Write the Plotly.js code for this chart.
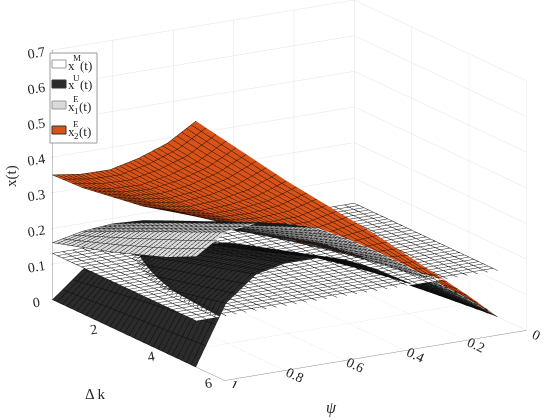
<!DOCTYPE html>
<html>
<head>
<meta charset="utf-8">
<script src="https://cdn.plot.ly/plotly-3.0.1.min.js"></script>
<style>html,body{margin:0;padding:0;background:#fff;}#chart{width:550px;height:420px;}</style>
</head>
<body>
<div id="chart"></div>
<script>
// axes
var psi = [0, 0.1, 0.2, 0.3, 0.4, 0.5, 0.6, 0.7, 0.8, 0.9, 1];
var dk = [0, 1, 2, 3, 4, 5];
var psiTicks = [0, 0.2, 0.4, 0.6, 0.8, 1];
var dkTicks = [0, 2, 4, 6];
var zTicks = [0, 0.1, 0.2, 0.3, 0.4, 0.5, 0.6, 0.7];

// x^M(t): rows = Δk, columns = ψ
var xM = [
  [0.13, 0.13, 0.13, 0.13, 0.13, 0.13, 0.13, 0.13, 0.13, 0.13, 0.13],
  [0.13, 0.13, 0.13, 0.13, 0.13, 0.13, 0.13, 0.13, 0.13, 0.13, 0.13],
  [0.13, 0.13, 0.13, 0.13, 0.13, 0.13, 0.13, 0.13, 0.13, 0.13, 0.13],
  [0.13, 0.13, 0.13, 0.13, 0.13, 0.13, 0.13, 0.13, 0.13, 0.13, 0.13],
  [0.13, 0.13, 0.13, 0.13, 0.13, 0.13, 0.13, 0.13, 0.13, 0.13, 0.13],
  [0.13, 0.13, 0.13, 0.13, 0.13, 0.13, 0.13, 0.13, 0.13, 0.13, 0.13]
];
// x^U(t)
var xU = [
  [0, 0.020, 0.040, 0.060, 0.080, 0.100, 0.110, 0.115, 0.105, 0.070, 0],
  [0, 0.025, 0.050, 0.076, 0.102, 0.126, 0.138, 0.142, 0.132, 0.090, 0],
  [0, 0.030, 0.060, 0.092, 0.124, 0.152, 0.166, 0.169, 0.158, 0.110, 0],
  [0, 0.035, 0.070, 0.108, 0.146, 0.178, 0.194, 0.196, 0.184, 0.128, 0],
  [0, 0.040, 0.080, 0.124, 0.168, 0.204, 0.222, 0.223, 0.208, 0.146, 0],
  [0, 0.045, 0.090, 0.140, 0.190, 0.230, 0.250, 0.250, 0.232, 0.165, 0]
];
// x_1^E(t)
var x1E = [
  [0, 0.025, 0.050, 0.080, 0.110, 0.137, 0.160, 0.180, 0.185, 0.178, 0.160],
  [0, 0.033, 0.065, 0.100, 0.135, 0.167, 0.195, 0.217, 0.225, 0.215, 0.185],
  [0, 0.041, 0.080, 0.120, 0.161, 0.197, 0.230, 0.253, 0.263, 0.253, 0.210],
  [0, 0.049, 0.095, 0.143, 0.187, 0.228, 0.265, 0.290, 0.300, 0.290, 0.240],
  [0, 0.057, 0.110, 0.164, 0.213, 0.259, 0.300, 0.325, 0.337, 0.327, 0.270],
  [0, 0.065, 0.125, 0.185, 0.240, 0.290, 0.335, 0.360, 0.375, 0.365, 0.310]
];
// x_2^E(t)
var x2E = [
  [0.045, 0.065, 0.085, 0.105, 0.130, 0.160, 0.190, 0.220, 0.260, 0.300, 0.350],
  [0.035, 0.061, 0.086, 0.112, 0.143, 0.177, 0.213, 0.248, 0.292, 0.336, 0.390],
  [0.025, 0.058, 0.091, 0.124, 0.161, 0.202, 0.243, 0.284, 0.333, 0.383, 0.440],
  [0.015, 0.058, 0.100, 0.143, 0.189, 0.238, 0.287, 0.337, 0.392, 0.448, 0.510],
  [0.008, 0.062, 0.116, 0.170, 0.227, 0.284, 0.343, 0.401, 0.463, 0.524, 0.590],
  [0.000, 0.075, 0.145, 0.215, 0.285, 0.350, 0.415, 0.480, 0.550, 0.620, 0.690]
];

var seriesNames = ['x^M(t)', 'x^U(t)', 'x_1^E(t)', 'x_2^E(t)'];
var faceColors = ['#ffffff', '#2b2b2b', '#dadada', '#d95319'];
var edgeColors = ['#1a1a1a', '#0a0a0a', '#1a1a1a', '#2a1208'];
var zData = [xM, xU, x1E, x2E];

var traces = zData.map(function (z, k) {
  return {
    type: 'surface',
    name: seriesNames[k],
    x: psi, y: dk, z: z,
    colorscale: [[0, faceColors[k]], [1, faceColors[k]]],
    showscale: false,
    hoverinfo: 'skip',
    lighting: {ambient: 1, diffuse: 0, specular: 0, roughness: 1, fresnel: 0},
    contours: {
      x: {show: true, start: 0, end: 1, size: 1 / 30, color: edgeColors[k], width: 1, highlight: false},
      y: {show: true, start: 0, end: 5, size: 5 / 30, color: edgeColors[k], width: 1, highlight: false},
      z: {show: false, highlight: false}
    }
  };
});

var tickFont = {family: 'Liberation Serif', size: 13, color: '#262626'};
function axis(vals, range) {
  return {
    title: {text: ''},
    range: range, autorange: false,
    tickvals: vals, ticktext: vals.map(String),
    tickfont: tickFont,
    showgrid: true, gridcolor: '#e3e3e3', gridwidth: 1,
    showline: true, linecolor: '#8c8c8c', linewidth: 1,
    zeroline: false, showbackground: false, showspikes: false,
    ticks: 'outside', ticklen: 1, tickcolor: '#8c8c8c'
  };
}

function px(x) { return x / 550; }
function py(y) { return 1 - y / 420; }
var titleFont = {family: 'Liberation Serif', size: 15, color: '#262626'};
var annotations = [
  {xref: 'paper', yref: 'paper', x: px(11), y: py(176), text: 'x(t)', textangle: -90, showarrow: false, xanchor: 'center', yanchor: 'middle', font: titleFont},
  {xref: 'paper', yref: 'paper', x: px(95), y: py(394), text: 'Δ k', showarrow: false, xanchor: 'center', yanchor: 'middle', font: titleFont},
  {xref: 'paper', yref: 'paper', x: px(331), y: py(408), text: '<i>ψ</i>', showarrow: false, xanchor: 'center', yanchor: 'middle', font: {family: 'Liberation Serif', size: 16, color: '#262626'}}
];

// legend drawn with the series colours
var legendRows = [
  {y: 64, base: 'x', sup: 'M', sub: null},
  {y: 84, base: 'x', sup: 'U', sub: null},
  {y: 105, base: 'x', sup: 'E', sub: '1'},
  {y: 130, base: 'x', sup: 'E', sub: '2'}
];
var shapes = [{type: 'rect', xref: 'paper', yref: 'paper', x0: px(50), x1: px(97), y0: py(53), y1: py(143),
  line: {color: '#9a9a9a', width: 1}, fillcolor: 'rgba(255,255,255,1)', layer: 'above'}];
legendRows.forEach(function (r, k) {
  shapes.push({type: 'rect', xref: 'paper', yref: 'paper', x0: px(52), x1: px(66), y0: py(r.y - 4), y1: py(r.y + 4),
    line: {color: k === 1 || k === 3 ? '#333' : '#9a9a9a', width: 1}, fillcolor: faceColors[k], layer: 'above'});
  var f = {family: 'Liberation Serif', size: 13, color: '#262626'};
  var fs = {family: 'Liberation Serif', size: 9, color: '#262626'};
  annotations.push({xref: 'paper', yref: 'paper', x: px(65.5), y: py(r.y + 1), text: r.base, showarrow: false, xanchor: 'left', yanchor: 'middle', font: f});
  annotations.push({xref: 'paper', yref: 'paper', x: px(71), y: py(r.y - 6), text: r.sup, showarrow: false, xanchor: 'left', yanchor: 'middle', font: fs});
  if (r.sub) annotations.push({xref: 'paper', yref: 'paper', x: px(71.5), y: py(r.y + 6), text: r.sub, showarrow: false, xanchor: 'left', yanchor: 'middle', font: fs});
  annotations.push({xref: 'paper', yref: 'paper', x: px(r.sub ? 77 : 78), y: py(r.y + 1), text: '(t)', showarrow: false, xanchor: 'left', yanchor: 'middle', font: f});
});

var s = 1.81;
var layout = {
  width: 550, height: 420,
  margin: {l: 0, r: 0, t: 0, b: 0},
  paper_bgcolor: '#fff',
  showlegend: false,
  scene: {
    domain: {x: [0.05, 1.0], y: [0.076, 1.0]},
    aspectmode: 'manual',
    aspectratio: {x: 1 * s, y: 0.959 * s, z: 0.74 * s},
    camera: {
      eye: {x: 0.4922 * 2, y: 0.8275 * 2, z: 0.2701 * 2},
      up: {x: 0, y: 0, z: 1},
      center: {x: 0, y: 0, z: -0.02},
      projection: {type: 'orthographic'}
    },
    xaxis: axis(psiTicks, [0, 1]),
    yaxis: axis(dkTicks, [0, 6]),
    zaxis: axis(zTicks, [0, 0.7])
  },
  shapes: shapes,
  annotations: annotations
};

Plotly.newPlot('chart', traces, layout, {displayModeBar: false});
</script>
</body>
</html>
